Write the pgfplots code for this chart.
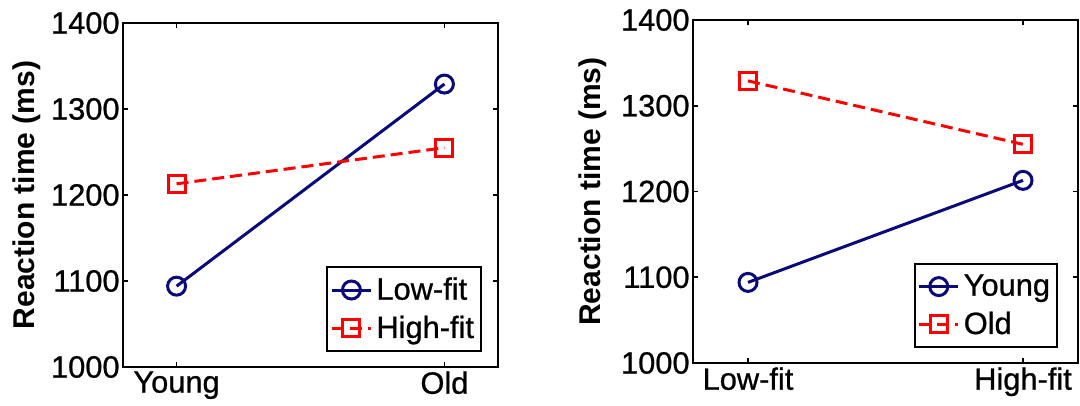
\documentclass[border=0pt]{standalone}
\usepackage{fontspec}
\setmainfont{Liberation Sans}
\newfontfamily\heavysans[FakeBold=0.8]{Liberation Sans}
\usepackage{pgfplots}
\pgfplotsset{compat=1.18}

\definecolor{navy}{RGB}{10,10,120}
\definecolor{mred}{RGB}{255,0,0}

\pgfplotsset{
  rtstyle/.style={
    scale only axis,
    xmin=0.8, xmax=2.2, ymin=1000, ymax=1400,
    xtick={1,2}, ytick={1000,1100,...,1400},
    tick align=inside, major tick length=2.5pt,
    axis line style={line width=1pt},
    every tick/.style={black, line width=0.8pt},
    tick label style={font=\fontsize{15.4}{18}\heavysans},
    yticklabel style={inner sep=1.5pt},
    xticklabel style={inner sep=2pt},
    /pgf/number format/assume math mode=true,
    /pgf/number format/1000 sep={},
    ylabel={Reaction time (ms)},
    ylabel style={font=\fontsize{15}{18}\selectfont\bfseries, anchor=center},
    legend style={draw=black, line width=1pt, anchor=south east,
      font=\fontsize{15.4}{18}\heavysans, inner xsep=1.5pt, inner ysep=3pt,
      row sep=2.5pt},
    legend cell align=left,
    legend image code/.code={%
      \draw[mark repeat=2, mark phase=2] plot coordinates {(0pt,0pt) (9.75pt,0pt) (19.5pt,0pt)};},
  },
  lowline/.style={navy, line width=1.5pt, mark=o, mark size=4.5pt, mark options={solid}},
  highline/.style={mred, line width=1.5pt, dash pattern=on 6pt off 3pt, mark=square, mark size=4.25pt, mark options={solid}},
}

\begin{document}
\begin{tikzpicture}
\useasboundingbox (0,0) rectangle (540pt,203pt);

% Age on the x axis, fit condition as series
\begin{axis}[rtstyle, at={(61.5pt,19.5pt)}, anchor=south west,
  width=187.5pt, height=172pt,
  xticklabels={Young,Old},
  ylabel style={at={(rel axis cs:-0.256,0.5)}},
  legend style={at={(1,0)}, xshift=-8pt, yshift=7.5pt}]
\addplot[lowline] coordinates {(1,1094) (2,1329)};
\addlegendentry{Low-fit}
\addplot[highline] coordinates {(1,1213) (2,1255)};
\addlegendentry{High-fit}
\end{axis}

% Fit condition on the x axis, age as series
\begin{axis}[rtstyle, at={(346.5pt,21.5pt)}, anchor=south west,
  width=192.5pt, height=171.5pt,
  xticklabels={Low-fit,High-fit},
  ylabel style={at={(rel axis cs:-0.26,0.5)}},
  legend style={at={(1,0)}, xshift=-10pt, yshift=7.5pt}]
\addplot[lowline] coordinates {(1,1094) (2,1213)};
\addlegendentry{Young}
\addplot[highline] coordinates {(1,1329) (2,1255)};
\addlegendentry{Old}
\end{axis}
\end{tikzpicture}
\end{document}
